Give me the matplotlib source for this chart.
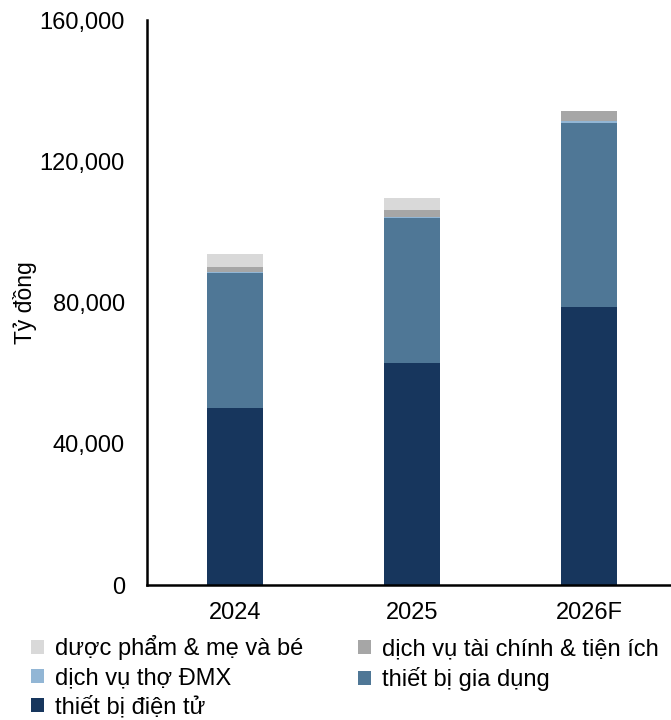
import matplotlib.pyplot as plt
import numpy as np

plt.rcParams['font.family'] = ['Liberation Sans', 'DejaVu Sans']

years = ["2024", "2025", "2026F"]
dien_tu = [50100, 62900, 78800]
gia_dung = [38300, 40900, 51900]
tho_dmx = [300, 300, 800]
tai_chinh = [1400, 2000, 2600]
duoc_pham = [3700, 3600, 0]

series = [
    ("thiết bị điện tử", dien_tu, "#17365d"),
    ("thiết bị gia dụng", gia_dung, "#4f7796"),
    ("dịch vụ thợ ĐMX", tho_dmx, "#92b6d5"),
    ("dịch vụ tài chính & tiện ích", tai_chinh, "#a6a6a6"),
    ("dược phẩm & mẹ và bé", duoc_pham, "#d9d9d9"),
]

fig = plt.figure(figsize=(6.71, 7.2), dpi=100)
ax = fig.add_axes([147 / 671, 1 - 585 / 720, (677.5 - 147) / 671, 565 / 720])

x = np.arange(len(years))
bottom = np.zeros(len(years))
handles = {}
for name, vals, color in series:
    b = ax.bar(x, vals, width=0.316, bottom=bottom, color=color, label=name)
    handles[name] = b
    bottom += np.array(vals)

ax.set_xlim(-0.5, 2.5)
ax.set_ylim(0, 160000)
ax.set_yticks([0, 40000, 80000, 120000, 160000])
ax.set_yticklabels(["0", "40,000", "80,000", "120,000", "160,000"])
ax.set_xticks(x)
ax.set_xticklabels(years)
ax.tick_params(axis="y", length=0, labelsize=17, pad=16)
ax.tick_params(axis="x", length=0, labelsize=17, pad=12)
ax.set_ylabel("Tỷ đồng", fontsize=16.5)
ax.yaxis.set_label_coords(-0.207, 0.5)
for s in ["top", "right"]:
    ax.spines[s].set_visible(False)
for s in ["left", "bottom"]:
    ax.spines[s].set_linewidth(1.8)
    ax.spines[s].set_color("black")

order = ["dược phẩm & mẹ và bé", "dịch vụ thợ ĐMX", "thiết bị điện tử",
         "dịch vụ tài chính & tiện ích", "thiết bị gia dụng"]
fig.legend([handles[n] for n in order], order, loc="upper left",
           bbox_to_anchor=(31 / 671, 1 - 635 / 720), ncol=2, frameon=False,
           fontsize=17, handlelength=0.55, handleheight=0.55,
           handletextpad=0.47, columnspacing=2.3, labelspacing=0.3,
           borderaxespad=0, borderpad=0)

fig.savefig("out.png", dpi=100)
